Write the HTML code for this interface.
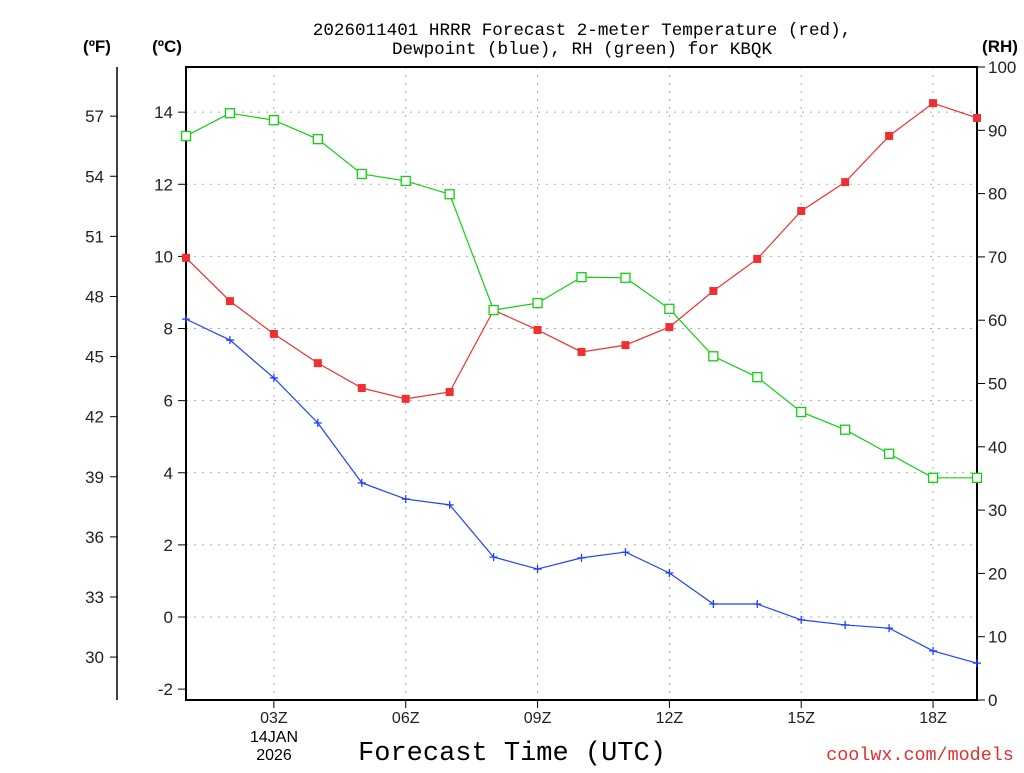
<!DOCTYPE html>
<html><head><meta charset="utf-8"><style>
body{margin:0;background:#fff;}
svg text{font-family:"Liberation Sans",sans-serif;}
</style></head><body>
<svg id="chart" width="1024" height="768" xmlns="http://www.w3.org/2000/svg">
<rect width="1024" height="768" fill="#fff"/>
<g id="grid"></g>
<g id="axes"></g>
<g id="series"></g>
<text x="582" y="35" text-anchor="middle" font-size="17.6" style="font-family:'Liberation Mono',monospace">2026011401 HRRR Forecast 2-meter Temperature (red),</text>
<text x="582" y="54" text-anchor="middle" font-size="17.6" style="font-family:'Liberation Mono',monospace">Dewpoint (blue), RH (green) for KBQK</text>
<text x="97" y="52" text-anchor="middle" font-size="17" font-weight="bold">(ºF)</text>
<text x="167" y="52" text-anchor="middle" font-size="17" font-weight="bold">(ºC)</text>
<text x="1000" y="52" text-anchor="middle" font-size="17" font-weight="bold">(RH)</text>
<text x="512" y="760" text-anchor="middle" font-size="27" style="font-family:'Liberation Mono',monospace">Forecast Time (UTC)</text>
<text x="274" y="742" text-anchor="middle" font-size="16">14JAN</text>
<text x="274" y="760" text-anchor="middle" font-size="16">2026</text>
<text x="920" y="760" text-anchor="middle" font-size="18.4" fill="#e03030" style="font-family:'Liberation Mono',monospace">coolwx.com/models</text>
</svg>
<script>
const hours=[1,2,3,4,5,6,7,8,9,10,11,12,13,14,15,16,17,18,19];
const tempC=[9.96,8.76,7.85,7.04,6.35,6.05,6.24,8.51,7.96,7.35,7.54,8.04,9.04,9.93,11.26,12.06,13.34,14.25,13.84];
const dewC=[8.26,7.68,6.63,5.38,3.72,3.27,3.11,1.66,1.33,1.64,1.80,1.22,0.36,0.36,-0.08,-0.22,-0.31,-0.94,-1.28];
const rh=[89.1,92.7,91.6,88.6,83.1,82.0,79.9,61.6,62.7,66.8,66.7,61.8,54.3,51.0,45.5,42.7,38.9,35.1,35.1];
const xTickHours=[3,6,9,12,15,18];
const xTickLabels=["03Z","06Z","09Z","12Z","15Z","18Z"];
const cTicks=[-2,0,2,4,6,8,10,12,14];
const fTicks=[30,33,36,39,42,45,48,51,54,57];
const rhTicks=[0,10,20,30,40,50,60,70,80,90,100];
const L=186,R=977,T=67,B=700;
const xs=h=>L+(h-1)*(R-L)/18;
const yC=c=>617-c*36.06;
const yF=f=>yC((f-32)*5/9);
const yR=r=>B-(B-T)*r/100;
const NS="http://www.w3.org/2000/svg";
function mk(parent,tag,attrs){const e=document.createElementNS(NS,tag);for(const k in attrs)e.setAttribute(k,attrs[k]);parent.appendChild(e);return e;}
const grid=document.getElementById('grid'),axes=document.getElementById('axes'),ser=document.getElementById('series');
cTicks.forEach(c=>{
 if(c>-2){const g=mk(grid,'line',{x1:L,x2:R,y1:yC(c),y2:yC(c),stroke:'#aaa','stroke-dasharray':'2,6'});
 
 }
 const t=mk(axes,'line',{x1:L-8,x2:L,y1:yC(c),y2:yC(c),stroke:'#000'});
 
 
 const tx=mk(axes,'text',{x:L-13,y:yC(c)+6,'text-anchor':'end','font-size':'17',fill:'#222'});tx.textContent=c;
 
 
});
xTickHours.forEach((h,i)=>{
 const g=mk(grid,'line',{x1:xs(h),x2:xs(h),y1:T,y2:B,stroke:'#aaa','stroke-dasharray':'2,6'});
 
 
 const t=mk(axes,'line',{x1:xs(h),x2:xs(h),y1:B,y2:B+8,stroke:'#000'});
 
 
 const tx=mk(axes,'text',{x:xs(h),y:B+23,'text-anchor':'middle','font-size':'16',fill:'#222'});tx.textContent=xTickLabels[i];
 
 
});
fTicks.forEach(f=>{
 const t=mk(axes,'line',{x1:110,x2:117,y1:yF(f),y2:yF(f),stroke:'#000'});
 
 
 const tx=mk(axes,'text',{x:104,y:yF(f)+6,'text-anchor':'end','font-size':'17',fill:'#222'});tx.textContent=f;
 
 
});
rhTicks.forEach(r=>{
 const t=mk(axes,'line',{x1:R,x2:R+8,y1:yR(r),y2:yR(r),stroke:'#000'});
 
 
 const tx=mk(axes,'text',{x:988,y:yR(r)+6,'font-size':'17',fill:'#222'});tx.textContent=r;
 
 
});
const fl=mk(axes,'line',{x1:117,x2:117,y1:T,y2:B,stroke:'#000','stroke-width':1.5});


const fr=mk(axes,'rect',{x:L,y:T,width:R-L,height:B-T,fill:'none',stroke:'#000','stroke-width':2});


function line(vals,yf,color,name){
 const p=mk(ser,'polyline',{points:vals.map((v,i)=>xs(hours[i])+','+yf(v)).join(' '),fill:'none',stroke:color,'stroke-width':1.2});
 
 
}
line(tempC,yC,'#f03030','temperature');
line(dewC,yC,'#2040ff','dewpoint');
line(rh,yR,'#10d010','rh');
tempC.forEach((v,i)=>{const m=mk(ser,'rect',{x:xs(hours[i])-4,y:yC(v)-4,width:8,height:8,fill:'#f03030'});
 
 });
dewC.forEach((v,i)=>{const x=xs(hours[i]),y=yC(v);const m=mk(ser,'path',{d:`M${x-4},${y}H${x+4}M${x},${y-4}V${y+4}`,stroke:'#2040ff','stroke-width':1.3});
 
 });
rh.forEach((v,i)=>{const m=mk(ser,'rect',{x:xs(hours[i])-4.5,y:yR(v)-4.5,width:9,height:9,fill:'#fff',stroke:'#10d010','stroke-width':1.3});
 
 });
</script>
</body></html>
